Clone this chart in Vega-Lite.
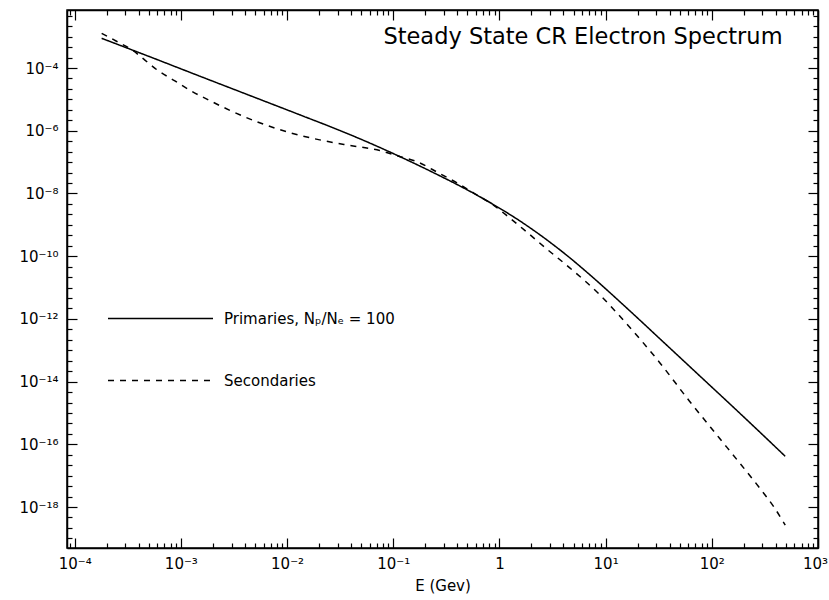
{
  "$schema": "https://vega.github.io/schema/vega-lite/v6.json",
  "autosize": "none",
  "width": 751,
  "height": 538,
  "padding": {"left": 67, "top": 10, "right": 11, "bottom": 52},
  "background": "white",
  "config": {
    "view": {"stroke": "black", "strokeWidth": 1.5},
    "font": "DejaVu Sans",
    "axis": {"grid": false, "domainColor": "black", "domainWidth": 1.5, "tickColor": "black", "tickWidth": 1.2, "labelColor": "black", "labelFont": "DejaVu Sans", "labelFontSize": 15, "titleFont": "DejaVu Sans", "titleColor": "black", "labelFlush": false, "labelOverlap": false}
  },
  "title": {"text": "Steady State CR Electron Spectrum", "anchor": "end", "orient": "top", "offset": -37, "dx": -45, "dy": 21, "baseline": "alphabetic", "fontSize": 22.5, "fontWeight": "normal", "font": "DejaVu Sans", "color": "black"},
  "data": {"values": [
    {"E": 1.795e-4, "F": 8.85e-4, "series": "Primaries, Nₚ/Nₑ = 100"},
    {"E": 5.11e-4, "F": 2.28e-4, "series": "Primaries, Nₚ/Nₑ = 100"},
    {"E": 1.509e-3, "F": 5.48e-5, "series": "Primaries, Nₚ/Nₑ = 100"},
    {"E": 4.457e-3, "F": 1.33e-5, "series": "Primaries, Nₚ/Nₑ = 100"},
    {"E": 1.317e-2, "F": 3.22e-6, "series": "Primaries, Nₚ/Nₑ = 100"},
    {"E": 3.131e-2, "F": 1.023e-6, "series": "Primaries, Nₚ/Nₑ = 100"},
    {"E": 5.998e-2, "F": 4.06e-7, "series": "Primaries, Nₚ/Nₑ = 100"},
    {"E": 0.1149, "F": 1.507e-7, "series": "Primaries, Nₚ/Nₑ = 100"},
    {"E": 0.2732, "F": 3.68e-8, "series": "Primaries, Nₚ/Nₑ = 100"},
    {"E": 0.4903, "F": 1.337e-8, "series": "Primaries, Nₚ/Nₑ = 100"},
    {"E": 0.8613, "F": 4.60e-9, "series": "Primaries, Nₚ/Nₑ = 100"},
    {"E": 1.546, "F": 1.352e-9, "series": "Primaries, Nₚ/Nₑ = 100"},
    {"E": 2.774, "F": 3.37e-10, "series": "Primaries, Nₚ/Nₑ = 100"},
    {"E": 4.565, "F": 9.06e-11, "series": "Primaries, Nₚ/Nₑ = 100"},
    {"E": 7.513, "F": 2.16e-11, "series": "Primaries, Nₚ/Nₑ = 100"},
    {"E": 13.48, "F": 3.64e-12, "series": "Primaries, Nₚ/Nₑ = 100"},
    {"E": 20.80, "F": 9.42e-13, "series": "Primaries, Nₚ/Nₑ = 100"},
    {"E": 32.07, "F": 2.40e-13, "series": "Primaries, Nₚ/Nₑ = 100"},
    {"E": 49.46, "F": 6.14e-14, "series": "Primaries, Nₚ/Nₑ = 100"},
    {"E": 81.42, "F": 1.274e-14, "series": "Primaries, Nₚ/Nₑ = 100"},
    {"E": 146.1, "F": 2.02e-15, "series": "Primaries, Nₚ/Nₑ = 100"},
    {"E": 279.8, "F": 2.55e-16, "series": "Primaries, Nₚ/Nₑ = 100"},
    {"E": 491.3, "F": 4.15e-17, "series": "Primaries, Nₚ/Nₑ = 100"},
    {"E": 1.795e-4, "F": 1.278e-3, "series": "Secondaries"},
    {"E": 2.50e-4, "F": 7.0e-4, "series": "Secondaries"},
    {"E": 3.535e-4, "F": 3.61e-4, "series": "Secondaries"},
    {"E": 4.585e-4, "F": 1.786e-4, "series": "Secondaries"},
    {"E": 5.943e-4, "F": 8.83e-5, "series": "Secondaries"},
    {"E": 8.78e-4, "F": 3.88e-5, "series": "Secondaries"},
    {"E": 1.215e-3, "F": 1.959e-5, "series": "Secondaries"},
    {"E": 1.874e-3, "F": 9.12e-6, "series": "Secondaries"},
    {"E": 2.891e-3, "F": 4.48e-6, "series": "Secondaries"},
    {"E": 5.188e-3, "F": 1.941e-6, "series": "Secondaries"},
    {"E": 1.060e-2, "F": 8.71e-7, "series": "Secondaries"},
    {"E": 2.167e-2, "F": 4.88e-7, "series": "Secondaries"},
    {"E": 3.889e-2, "F": 3.40e-7, "series": "Secondaries"},
    {"E": 7.447e-2, "F": 2.34e-7, "series": "Secondaries"},
    {"E": 0.1149, "F": 1.507e-7, "series": "Secondaries"},
    {"E": 0.1660, "F": 1.042e-7, "series": "Secondaries"},
    {"E": 0.2732, "F": 4.33e-8, "series": "Secondaries"},
    {"E": 0.3781, "F": 2.41e-8, "series": "Secondaries"},
    {"E": 0.5832, "F": 9.95e-9, "series": "Secondaries"},
    {"E": 0.8613, "F": 4.44e-9, "series": "Secondaries"},
    {"E": 1.245, "F": 1.671e-9, "series": "Secondaries"},
    {"E": 1.722, "F": 6.78e-10, "series": "Secondaries"},
    {"E": 2.774, "F": 1.718e-10, "series": "Secondaries"},
    {"E": 4.873, "F": 3.59e-11, "series": "Secondaries"},
    {"E": 8.742, "F": 6.04e-12, "series": "Secondaries"},
    {"E": 15.70, "F": 7.08e-13, "series": "Secondaries"},
    {"E": 32.07, "F": 4.16e-14, "series": "Secondaries"},
    {"E": 61.42, "F": 2.41e-15, "series": "Secondaries"},
    {"E": 117.7, "F": 1.59e-16, "series": "Secondaries"},
    {"E": 181.4, "F": 2.63e-17, "series": "Secondaries"},
    {"E": 279.8, "F": 4.20e-18, "series": "Secondaries"},
    {"E": 387.3, "F": 9.66e-19, "series": "Secondaries"},
    {"E": 491.3, "F": 2.67e-19, "series": "Secondaries"}
  ]},
  "layer": [
    {
      "mark": {"type": "line", "color": "black", "strokeWidth": 1.5, "interpolate": "monotone"},
      "encoding": {
        "x": {"field": "E", "type": "quantitative",
          "scale": {"type": "log", "domain": [8.465e-5, 1000], "nice": false},
          "axis": {"orient": "bottom", "title": "E (Gev)", "titleFontSize": 15, "titleFontWeight": "normal", "titlePadding": 2,
            "values": [9e-5,1e-4,2e-4,3e-4,4e-4,5e-4,6e-4,7e-4,8e-4,9e-4,1e-3,2e-3,3e-3,4e-3,5e-3,6e-3,7e-3,8e-3,9e-3,0.01,0.02,0.03,0.04,0.05,0.06,0.07,0.08,0.09,0.1,0.2,0.3,0.4,0.5,0.6,0.7,0.8,0.9,1,2,3,4,5,6,7,8,9,10,20,30,40,50,60,70,80,90,100,200,300,400,500,600,700,800,900,1000],
            "labelExpr": "abs(log(datum.value)/LN10 - round(log(datum.value)/LN10)) > 1e-4 ? '' : (round(log(datum.value)/LN10) == 0 ? '1' : '10' + replace(replace(replace(replace(replace(replace('' + round(log(datum.value)/LN10), '-', '⁻'), '1', '¹'), '2', '²'), '3', '³'), '4', '⁴'), '0', '⁰'))",
            "labelOffset": {"condition": {"test": "datum.value > 999", "value": -3}, "value": 0},
            "tickSize": {"condition": {"test": "abs(log(datum.value)/LN10 - round(log(datum.value)/LN10)) < 1e-4", "value": -10}, "value": -5},
            "labelPadding": 18}},
        "y": {"field": "F", "type": "quantitative",
          "scale": {"type": "log", "domain": [4.94e-20, 7.08e-3], "nice": false},
          "axis": {"orient": "left", "title": null,
            "values": [1e-19,2.15443e-19,4.64159e-19,1e-18,2.15443e-18,4.64159e-18,1e-17,2.15443e-17,4.64159e-17,1e-16,2.15443e-16,4.64159e-16,1e-15,2.15443e-15,4.64159e-15,1e-14,2.15443e-14,4.64159e-14,1e-13,2.15443e-13,4.64159e-13,1e-12,2.15443e-12,4.64159e-12,1e-11,2.15443e-11,4.64159e-11,1e-10,2.15443e-10,4.64159e-10,1e-9,2.15443e-9,4.64159e-9,1e-8,2.15443e-8,4.64159e-8,1e-7,2.15443e-7,4.64159e-7,1e-6,2.15443e-6,4.64159e-6,1e-5,2.15443e-5,4.64159e-5,1e-4,2.15443e-4,4.64159e-4,1e-3,2.15443e-3,4.64159e-3],
            "labelExpr": "(abs(log(datum.value)/LN10 - round(log(datum.value)/LN10)) < 1e-4 && round(log(datum.value)/LN10) % 2 == 0) ? '10' + replace(replace(replace(replace(replace(replace(replace('' + round(log(datum.value)/LN10), '-', '⁻'), '1', '¹'), '0', '⁰'), '2', '²'), '4', '⁴'), '6', '⁶'), '8', '⁸') : ''",
            "tickSize": {"condition": {"test": "abs(log(datum.value)/LN10 - round(log(datum.value)/LN10)) < 1e-4 && round(log(datum.value)/LN10) % 2 == 0", "value": -10}, "value": -5},
            "labelPadding": 19}},
        "strokeDash": {"field": "series", "type": "nominal",
          "scale": {"domain": ["Primaries, Nₚ/Nₑ = 100", "Secondaries"], "range": [[1, 0], [6, 6]]},
          "legend": {"orient": "none", "legendX": 40, "legendY": 255, "title": null, "symbolType": "stroke", "symbolSize": 11025, "symbolStrokeWidth": 1.5, "symbolStrokeColor": "black", "labelFontSize": 15, "labelFont": "DejaVu Sans", "labelColor": "black", "labelOffset": 10, "labelLimit": 0, "rowPadding": -42, "padding": 0}}
      }
    },
    {
      "mark": {"type": "point", "size": 0, "opacity": 0},
      "encoding": {
        "x": {"field": "E", "type": "quantitative",
          "scale": {"type": "log", "domain": [8.465e-5, 1000], "nice": false},
          "axis": {"orient": "top", "title": null, "labels": false,
            "values": [9e-5,1e-4,2e-4,3e-4,4e-4,5e-4,6e-4,7e-4,8e-4,9e-4,1e-3,2e-3,3e-3,4e-3,5e-3,6e-3,7e-3,8e-3,9e-3,0.01,0.02,0.03,0.04,0.05,0.06,0.07,0.08,0.09,0.1,0.2,0.3,0.4,0.5,0.6,0.7,0.8,0.9,1,2,3,4,5,6,7,8,9,10,20,30,40,50,60,70,80,90,100,200,300,400,500,600,700,800,900,1000],
            "tickSize": {"condition": {"test": "abs(log(datum.value)/LN10 - round(log(datum.value)/LN10)) < 1e-4", "value": -10}, "value": -5}}},
        "y": {"field": "F", "type": "quantitative",
          "scale": {"type": "log", "domain": [4.94e-20, 7.08e-3], "nice": false},
          "axis": {"orient": "right", "title": null, "labels": false,
            "values": [1e-19,2.15443e-19,4.64159e-19,1e-18,2.15443e-18,4.64159e-18,1e-17,2.15443e-17,4.64159e-17,1e-16,2.15443e-16,4.64159e-16,1e-15,2.15443e-15,4.64159e-15,1e-14,2.15443e-14,4.64159e-14,1e-13,2.15443e-13,4.64159e-13,1e-12,2.15443e-12,4.64159e-12,1e-11,2.15443e-11,4.64159e-11,1e-10,2.15443e-10,4.64159e-10,1e-9,2.15443e-9,4.64159e-9,1e-8,2.15443e-8,4.64159e-8,1e-7,2.15443e-7,4.64159e-7,1e-6,2.15443e-6,4.64159e-6,1e-5,2.15443e-5,4.64159e-5,1e-4,2.15443e-4,4.64159e-4,1e-3,2.15443e-3,4.64159e-3],
            "tickSize": {"condition": {"test": "abs(log(datum.value)/LN10 - round(log(datum.value)/LN10)) < 1e-4 && round(log(datum.value)/LN10) % 2 == 0", "value": -10}, "value": -5}}}
      }
    }
  ],
  "resolve": {"axis": {"x": "independent", "y": "independent"}}
}
